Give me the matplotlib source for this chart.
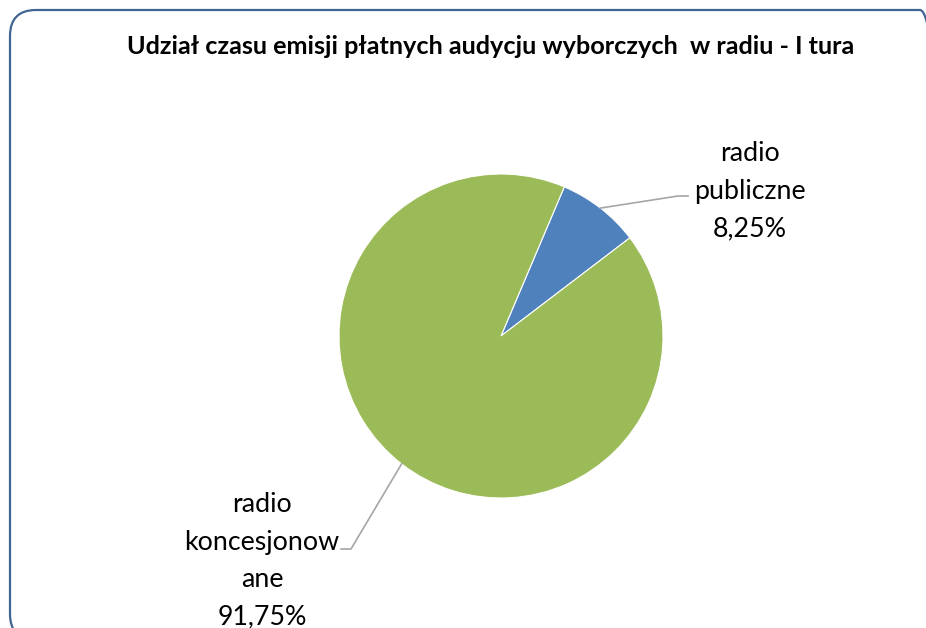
import matplotlib
matplotlib.use("Agg")
from matplotlib import pyplot as plt
from matplotlib.patches import FancyBboxPatch
from matplotlib.transforms import IdentityTransform
import numpy as np

# data
labels = ['radio\npubliczne', 'radio\nkoncesjonow\nane']
values = [8.25, 91.75]
colors = ['#4F81BD', '#9BBB59']
title = 'Udział czasu emisji płatnych audycju wyborczych  w radiu - I tura'

W, H = 926, 628
fig = plt.figure(figsize=(W/100, H/100), dpi=100)
plt.rcParams['font.family'] = ['Lato', 'DejaVu Sans']

# rounded frame in pixels (runs off the bottom/right edge like in the original)
frame = FancyBboxPatch((10, -12), 936, H-10+12,
                       boxstyle="round,pad=0,rounding_size=26",
                       transform=IdentityTransform(), facecolor='none',
                       edgecolor='#3F6593', lw=1.6, zorder=-1)
fig.patches.append(frame)

fig.text(491/W, 1-47/H, title, ha='center', va='center',
         fontsize=18.2, fontweight='bold')

cx, cy, r = 501, 336, 162
ax = fig.add_axes([(cx-r)/W, (H-cy-r)/H, 2*r/W, 2*r/H])
wedges, _ = ax.pie(values, colors=colors, startangle=67, counterclock=False,
                   wedgeprops=dict(edgecolor='white', linewidth=0.8))
ax.set_xlim(-1, 1)
ax.set_ylim(-1, 1)
ax.set_aspect('equal')
ax.axis('off')

def px(x, y):
    return (x-cx)/r, (cy-y)/r

# leader lines and labels
text_pos = [px(750, 191), px(262, 561)]
elbows = [(px(678, 196), px(688, 196)), (px(351, 549), px(341, 549))]
for w, lab, v, tp, (e1, e2) in zip(wedges, labels, values, text_pos, elbows):
    ang = np.deg2rad((w.theta1 + w.theta2)/2)
    x0, y0 = np.cos(ang), np.sin(ang)
    ax.plot([x0, e1[0], e2[0]], [y0, e1[1], e2[1]], color='#A6A6A6',
            lw=1.2, clip_on=False)
    s = lab + '\n' + ('%.2f%%' % v).replace('.', ',')
    ax.text(tp[0], tp[1], s, ha='center', va='center', multialignment='center',
            fontsize=19.3, linespacing=1.62, clip_on=False)

fig.savefig('out.png', dpi=100)
